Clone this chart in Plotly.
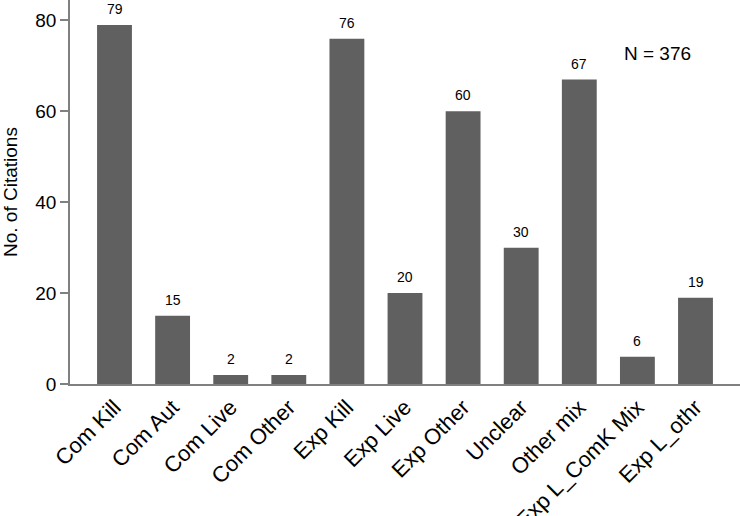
import plotly.graph_objects as go

categories = ["Com Kill", "Com Aut", "Com Live", "Com Other", "Exp Kill", "Exp Live",
              "Exp Other", "Unclear", "Other mix", "Exp L_ComK Mix", "Exp L_othr"]
citations = [79, 15, 2, 2, 76, 20, 60, 30, 67, 6, 19]
y_ticks = [0, 20, 40, 60, 80]
total_label = "N = 376"
y_title = "No. of Citations"

FONT = "Liberation Sans, Arial, sans-serif"
BAR = "#606060"
AXIS = "#808080"

fig = go.Figure(go.Bar(
    x=list(range(len(categories))), y=citations,
    marker=dict(color=BAR, line=dict(width=0)),
    width=0.6,
))

for i, v in enumerate(citations):
    fig.add_annotation(x=i, y=v, text=str(v), showarrow=False,
                       yanchor="bottom", yshift=6,
                       font=dict(family=FONT, size=14, color="black"))

fig.add_annotation(x=9.35, y=72.7, text=total_label, showarrow=False,
                   xanchor="center", yanchor="middle",
                   font=dict(family=FONT, size=19, color="black"))

fig.add_annotation(xref="paper", yref="paper", x=(10 - 70) / 670, y=0.5,
                   text=y_title, textangle=-90, showarrow=False,
                   xanchor="center", yanchor="middle",
                   font=dict(family=FONT, size=19, color="black"))

fig.update_layout(
    width=740, height=516,
    margin=dict(l=70, r=0, t=0, b=132),
    plot_bgcolor="white", paper_bgcolor="white",
    showlegend=False,
    font=dict(family=FONT, color="black"),
    bargap=0.4,
)
fig.update_xaxes(
    range=[-0.766, 10.766], automargin=False,
    tickmode="array", tickvals=list(range(len(categories))), ticktext=categories,
    tickangle=-45, ticks="",
    tickfont=dict(family=FONT, size=22, color="black"),
    showline=True, linecolor=AXIS, linewidth=1.5,
    showgrid=False, zeroline=False,
)
fig.update_yaxes(
    range=[0, 84.5], automargin=False,
    tickmode="array", tickvals=y_ticks,
    ticks="outside", ticklen=8, tickcolor=AXIS, tickwidth=1.5,
    tickfont=dict(family=FONT, size=19, color="black"),
    showline=True, linecolor=AXIS, linewidth=1.5,
    showgrid=False, zeroline=False,
)

fig.write_html("out.html",
               config={"displayModeBar": False},
               post_script="document.body.style.margin='0';document.body.style.overflow='hidden';")
